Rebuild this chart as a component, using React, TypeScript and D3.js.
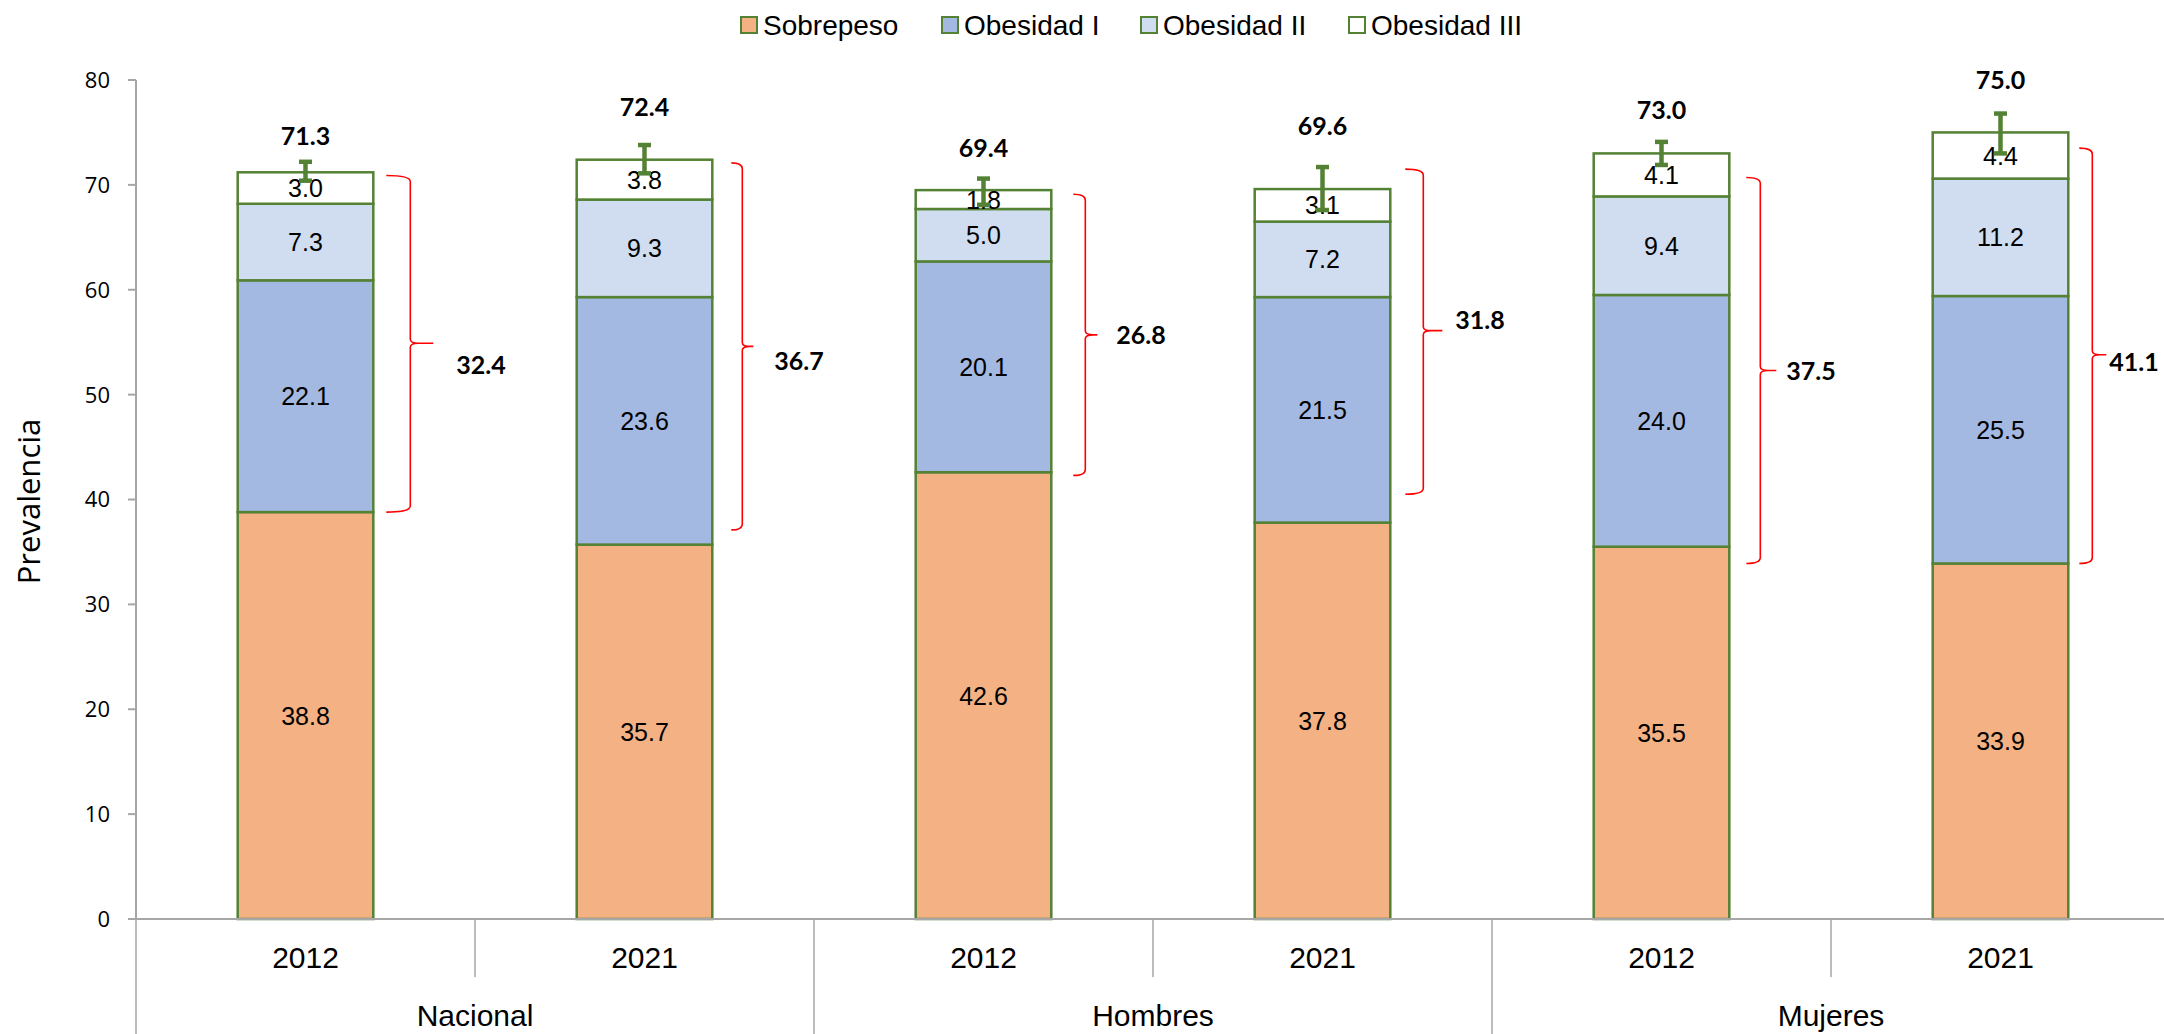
import React from 'react';
import * as d3 from 'd3';

const groups = ['Nacional', 'Hombres', 'Mujeres'];
const years = ['2012', '2021'];
const seriesNames = ['Sobrepeso', 'Obesidad I', 'Obesidad II', 'Obesidad III'];
const seriesColors = ['#F4B183', '#A4B9E1', '#D0DDF0', '#FFFFFF'];

const sobrepeso = [38.8, 35.7, 42.6, 37.8, 35.5, 33.9];
const obesidad1 = [22.1, 23.6, 20.1, 21.5, 24.0, 25.5];
const obesidad2 = [7.3, 9.3, 5.0, 7.2, 9.4, 11.2];
const obesidad3 = [3.0, 3.8, 1.8, 3.1, 4.1, 4.4];
const totals = [71.3, 72.4, 69.4, 69.6, 73.0, 75.0];
const ciLow = [70.4, 71.1, 68.1, 67.6, 71.9, 73.0];
const ciHigh = [72.2, 73.8, 70.6, 71.7, 74.1, 76.8];
const totalLabelAt = [74.7, 77.4, 73.5, 75.6, 77.1, 80.0];

const obesityTotals = [32.4, 36.7, 26.8, 31.8, 37.5, 41.1];
const bracketTop = [70.9, 72.1, 69.1, 71.5, 70.7, 73.5];
const bracketMid = [54.9, 54.6, 55.7, 56.1, 52.3, 53.8];
const bracketBottom = [38.8, 37.1, 42.3, 40.5, 33.9, 33.9];
const bracketLabelAt = [52.8, 53.2, 55.7, 57.1, 52.3, 53.1];

const yTicks = [0, 10, 20, 30, 40, 50, 60, 70, 80];

// annotation layout (pixel offsets from the bar's right edge)
const bracketArmX = [13, 19, 22, 15, 17, 11];
const bracketSpineX = [37, 30, 34, 33, 31, 24];
const bracketTipX = [60, 41, 46, 52, 47, 38];
const bracketTextX = [83, 62, 65, 65, 57, 41];

const W = 2164;
const H = 1034;
const GREEN = '#548235';
const AXIS = '#A6A6A6';

export default function App() {
  const ids = groups.flatMap((g) => years.map((yv) => `${g}-${yv}`));
  const rows = ids.map((id, i) => ({
    id,
    s0: sobrepeso[i],
    s1: obesidad1[i],
    s2: obesidad2[i],
    s3: obesidad3[i],
  }));
  const keys = ['s0', 's1', 's2', 's3'];
  const stacked = d3.stack<any>().keys(keys)(rows);

  const y = d3.scaleLinear().domain([0, 80]).range([919, 80]);
  const x = d3
    .scaleBand<string>()
    .domain(ids)
    .range([136, 2170])
    .paddingInner(0.6)
    .paddingOuter(0.3);
  const step = x.step();
  const bw = x.bandwidth();
  const slotLeft = (i: number) => (x(ids[i]) as number) - step * 0.3;
  const axisY = y(0);

  const legendX = [741, 942, 1141, 1349];

  const bracePath = (i: number) => {
    const right = (x(ids[i]) as number) + bw;
    const xa = right + bracketArmX[i];
    const xs = right + bracketSpineX[i];
    const xt = right + bracketTipX[i];
    const yt = y(bracketTop[i]);
    const ym = y(bracketMid[i]);
    const yb = y(bracketBottom[i]);
    const r = 4;
    const p = d3.path();
    p.moveTo(xa, yt);
    p.quadraticCurveTo(xs, yt, xs, yt + r * 1.5);
    p.lineTo(xs, ym - r);
    p.quadraticCurveTo(xs, ym, xs + r * 2, ym);
    p.lineTo(xt, ym);
    p.moveTo(xs + r * 2, ym);
    p.quadraticCurveTo(xs, ym, xs, ym + r);
    p.lineTo(xs, yb - r * 1.5);
    p.quadraticCurveTo(xs, yb, xa, yb);
    return p.toString();
  };

  return (
    <svg
      width={W}
      height={H}
      style={{ position: 'absolute', left: 0, top: 0, background: '#fff' }}
    >
      {/* Legend */}
      {seriesNames.map((name, i) => (
        <g key={name}>
          <rect
            x={legendX[i]}
            y={17}
            width={16}
            height={16}
            fill={seriesColors[i]}
            stroke={GREEN}
            strokeWidth={2}
          />
          <text
            x={legendX[i] + 22}
            y={35}
            fontFamily="'Liberation Sans', Arial, sans-serif"
            fontSize={28}
            fill="#000"
          >
            {name}
          </text>
        </g>
      ))}

      {/* Y axis */}
      <line x1={136} x2={136} y1={y(80)} y2={axisY} stroke={AXIS} strokeWidth={2} />
      {yTicks.map((t) => (
        <g key={t}>
          <line x1={128} x2={136} y1={y(t)} y2={y(t)} stroke={AXIS} strokeWidth={2} />
          <text
            x={110}
            y={y(t)}
            dy="0.36em"
            textAnchor="end"
            fontFamily="'Open Sans', sans-serif"
            fontSize={22}
            fill="#000"
          >
            {t}
          </text>
        </g>
      ))}
      <text
        transform={`translate(40,${(y(80) + axisY) / 2 + 2}) rotate(-90)`}
        textAnchor="middle"
        fontFamily="'Open Sans', sans-serif"
        fontSize={31}
        fill="#000"
      >
        Prevalencia
      </text>

      {/* Bars */}
      {stacked.map((layer, si) =>
        layer.map((d, i) => (
          <rect
            key={`${si}-${i}`}
            x={x(ids[i])}
            y={y(d[1])}
            width={bw}
            height={y(d[0]) - y(d[1])}
            fill={seriesColors[si]}
            stroke={GREEN}
            strokeWidth={2.5}
          />
        ))
      )}
      {stacked.map((layer, si) =>
        layer.map((d, i) => (
          <text
            key={`t${si}-${i}`}
            x={(x(ids[i]) as number) + bw / 2}
            y={(y(d[0]) + y(d[1])) / 2}
            dy="0.36em"
            textAnchor="middle"
            fontFamily="'Liberation Sans', Arial, sans-serif"
            fontSize={25}
            fill="#000"
          >
            {(d[1] - d[0]).toFixed(1)}
          </text>
        ))
      )}

      {/* Error bars */}
      {ids.map((id, i) => {
        const cx = (x(id) as number) + bw / 2;
        return (
          <g key={`e${id}`} stroke={GREEN}>
            <line x1={cx} x2={cx} y1={y(ciLow[i])} y2={y(ciHigh[i])} strokeWidth={4.5} />
            <line x1={cx - 6.5} x2={cx + 6.5} y1={y(ciLow[i])} y2={y(ciLow[i])} strokeWidth={4.5} />
            <line x1={cx - 6.5} x2={cx + 6.5} y1={y(ciHigh[i])} y2={y(ciHigh[i])} strokeWidth={4.5} />
          </g>
        );
      })}

      {/* Totals */}
      {ids.map((id, i) => (
        <text
          key={`tot${id}`}
          x={(x(id) as number) + bw / 2}
          y={y(totalLabelAt[i])}
          dy="0.36em"
          textAnchor="middle"
          fontFamily="Lato, 'Open Sans', sans-serif"
          fontWeight="bold"
          fontSize={25}
          fill="#000"
        >
          {totals[i].toFixed(1)}
        </text>
      ))}

      {/* Brackets */}
      {ids.map((id, i) => (
        <g key={`b${id}`}>
          <path d={bracePath(i)} fill="none" stroke="#FF0000" strokeWidth={1.6} />
          <text
            x={(x(id) as number) + bw + bracketTextX[i]}
            y={y(bracketLabelAt[i])}
            dy="0.36em"
            fontFamily="Lato, 'Open Sans', sans-serif"
            fontWeight="bold"
            fontSize={25}
            fill="#000"
          >
            {obesityTotals[i].toFixed(1)}
          </text>
        </g>
      ))}

      {/* Category axis */}
      <line x1={136} x2={2170} y1={axisY} y2={axisY} stroke={AXIS} strokeWidth={2} />
      {d3.range(ids.length + 1).map((k) => {
        const xx = k < ids.length ? slotLeft(k) : slotLeft(ids.length - 1) + step;
        const major = k % 2 === 0;
        return (
          <line
            key={`sep${k}`}
            x1={xx}
            x2={xx}
            y1={axisY}
            y2={major ? H : 977}
            stroke={AXIS}
            strokeWidth={1.5}
          />
        );
      })}
      {ids.map((id, i) => (
        <text
          key={`yr${id}`}
          x={(x(id) as number) + bw / 2}
          y={968}
          textAnchor="middle"
          fontFamily="'Liberation Sans', Arial, sans-serif"
          fontSize={30}
          fill="#000"
        >
          {years[i % 2]}
        </text>
      ))}
      {groups.map((g, gi) => (
        <text
          key={`g${g}`}
          x={slotLeft(gi * 2) + step}
          y={1026}
          textAnchor="middle"
          fontFamily="'Liberation Sans', Arial, sans-serif"
          fontSize={30}
          fill="#000"
        >
          {g}
        </text>
      ))}
    </svg>
  );
}
